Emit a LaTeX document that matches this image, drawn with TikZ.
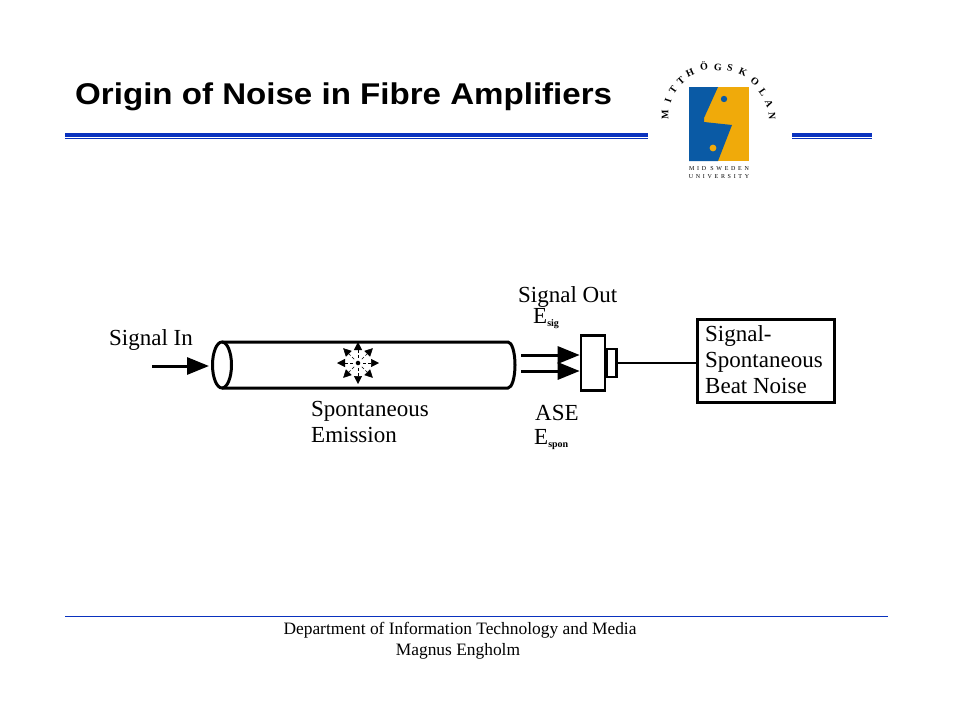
\documentclass[tikz,border=0pt]{standalone}
\usepackage{fontspec}
\setmainfont{Liberation Serif}
\setsansfont{Liberation Sans}
\newfontfamily\spacedfont[LetterSpace=45]{Liberation Serif}
\usetikzlibrary{arrows.meta,shapes.geometric}
\definecolor{rulecolor}{RGB}{10,50,190}
\definecolor{logoblue}{RGB}{10,90,165}
\definecolor{logoyellow}{RGB}{240,170,10}
\tikzset{
  textlabel/.style={inner sep=0pt,anchor=west,align=left,font=\fontsize{23}{26}\selectfont},
  footer/.style={inner sep=0pt,font=\fontsize{17.4}{20}\selectfont},
  heavy/.style={line width=3pt},
  bigtip/.style={line width=3pt,-{Triangle[length=22pt,width=17pt]}},
  smalltip/.style={line width=.5pt,densely dashed,shorten <=3pt,-{Triangle[length=8pt,width=8pt]}},
  logoletter/.style={inner sep=0pt,font=\fontsize{10}{11}\selectfont\bfseries}
}
\begin{document}
\begin{tikzpicture}[x=1pt,y=-1pt]
\useasboundingbox (0,0) rectangle (960,720);
\node [inner sep=0pt,anchor=west,xscale=1.103,font=\sffamily\bfseries\fontsize{30}{32}\selectfont] (title) at (75,97) {Origin of Noise in Fibre Amplifiers};
\fill [rulecolor] (65,133) rectangle (648,136.5);
\draw [rulecolor,line width=.9pt] (65,138.5) -- (648,138.5);
\fill [rulecolor] (792,133) rectangle (872,136.5);
\draw [rulecolor,line width=.9pt] (792,138.5) -- (872,138.5);
\fill [logoyellow] (689,87) rectangle (749,161);
\fill [logoblue] (689,87) -- (718,87) -- (704,118) -- (704,122) -- (732,125) -- (718,161) -- (689,161) -- cycle;
\fill [logoblue] (724,99) circle (3.2);
\fill [logoyellow] (713,148) circle (3.4);
\foreach \ltr/\px/\py/\ang in {M/665/115/90,I/668/101/72,T/673/90/55,T/681/81/42,H/690/73/25,\"O/704/66/8,G/718/67/-3,S/730/68/-12,K/743/72/-25,O/755/81/-40,L/763/92/-55,A/769/104/-68,N/772/116/-88}
  \node [logoletter,rotate=\ang] at (\px,\py) {\ltr};
\node [inner sep=0pt,font=\spacedfont\fontsize{6}{7}\selectfont] (midsweden) at (719,169) {MID SWEDEN};
\node [inner sep=0pt,font=\spacedfont\fontsize{6}{7}\selectfont] (university) at (719,177) {UNIVERSITY};
\draw [heavy] (222,342) -- (508,342) arc [start angle=-90,end angle=90,x radius=7,y radius=23] -- (222,388);
\node [draw,heavy,ellipse,minimum width=19pt,minimum height=46pt,inner sep=0pt] (fibreend) at (222,365) {};
\coordinate (signalstart) at (152,366);
\draw [bigtip,shorten >=2pt] (signalstart) -- (signalstart -| fibreend.west);
\node [textlabel] (signalin) at (109,340) {Signal In};
\node [circle,fill,inner sep=1.6pt] (emitter) at (358,363) {};
\foreach \ang in {0,45,...,315}
  \draw [smalltip] (emitter) -- +(\ang:21);
\node [textlabel] (spont) at (311,422) {Spontaneous\\Emission};
\node [draw,line width=2.6pt,minimum width=24pt,minimum height=55pt,inner sep=0pt] (detector) at (593,363) {};
\node [draw,line width=2.6pt,minimum width=10pt,minimum height=28pt,inner sep=0pt,anchor=west,xshift=-1.3pt] (window) at (detector.east) {};
\coordinate (fibreout) at (521,355);
\coordinate (aseout) at (521,371);
\draw [bigtip] (fibreout) -- (fibreout -| detector.west);
\draw [bigtip] (aseout) -- (aseout -| detector.west);
\node [draw,line width=3.2pt,minimum width=137pt,minimum height=83pt,inner sep=0pt] (beatnoise) at (766,361) {};
\draw [line width=2.2pt] (window.east) -- (window.east -| beatnoise.west);
\node [textlabel] (sigout) at (518,297) {Signal Out};
\node [textlabel] (esig) at (533,319) {E\raisebox{-3pt}{\fontsize{10}{11}\selectfont\bfseries sig}};
\node [textlabel] (ase) at (535,413) {ASE};
\node [textlabel] (espon) at (534,440) {E\raisebox{-3pt}{\fontsize{10}{11}\selectfont\bfseries spon}};
\node [textlabel] (beattext) at (705,360) {Signal-\\Spontaneous\\Beat Noise};
\draw [rulecolor,line width=.7pt] (65,616) -- (888,616);
\node [footer] (dept) at (460,630) {Department of Information Technology and Media};
\node [footer] (author) at (458,651) {Magnus Engholm};
\end{tikzpicture}
\end{document}
